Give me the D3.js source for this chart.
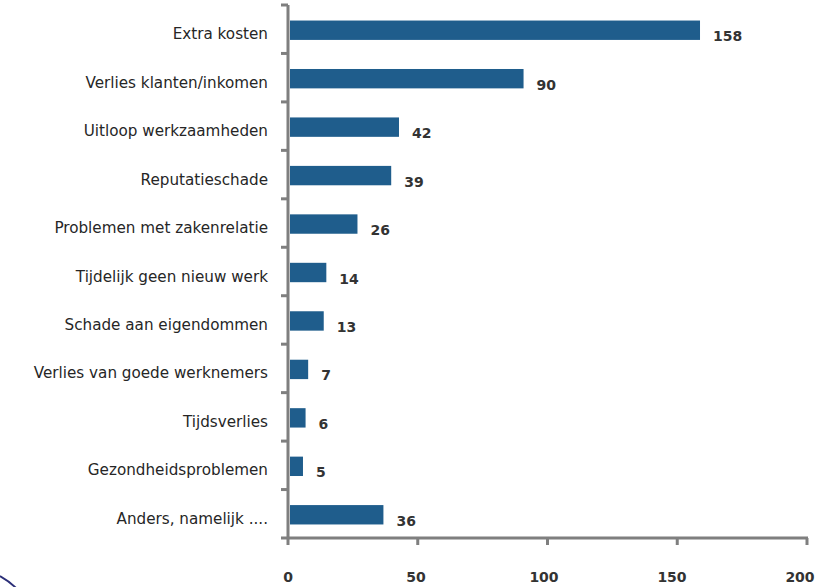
<!DOCTYPE html>
<html><head><meta charset="utf-8">
<script src="https://cdn.jsdelivr.net/npm/d3@7/dist/d3.min.js"></script>
<style>body{margin:0;background:#fff}svg{display:block}</style>
</head><body><svg id="c" width="820" height="587"></svg>
<script>
const categories = ["Extra kosten","Verlies klanten/inkomen","Uitloop werkzaamheden","Reputatieschade","Problemen met zakenrelatie","Tijdelijk geen nieuw werk","Schade aan eigendommen","Verlies van goede werknemers","Tijdsverlies","Gezondheidsproblemen","Anders, namelijk ...."];
const values = [158,90,42,39,26,14,13,7,6,5,36];
const xTicks = [0,50,100,150,200];

(function(){
const svg = d3.select("#c");
const mLeft = 288, mRight = 807, mTop = 5, mBottom = 538;
const x = d3.scaleLinear().domain([0,200]).range([mLeft,mRight]);
const y = d3.scaleBand().domain(categories).range([mTop,mBottom]).paddingInner(0.6).paddingOuter(0.3);
const font = "'DejaVu Sans', Verdana, sans-serif";

svg.selectAll("rect.bar").data(values).enter().append("rect")
  .attr("x", x(0)+2).attr("y",(d,i)=>y(categories[i])+1)
  .attr("width", d=>x(d)-x(0)).attr("height", y.bandwidth())
  .attr("fill","#1f5d8c");

svg.selectAll("text.val").data(values).enter().append("text")
  .attr("x", d=>x(d)+15).attr("y",(d,i)=>y(categories[i])+y.bandwidth()/2+12)
  .attr("font-family",font).attr("font-size",14).attr("font-weight","bold").attr("fill","#333")
  .text(d=>d);

const yb = d3.scaleLinear().domain([0,categories.length]).range([mTop,mBottom]);
const g = svg.append("g").attr("stroke","#7f7f7f");
g.append("line").attr("x1",mLeft).attr("x2",mLeft).attr("y1",mTop).attr("y2",mBottom+1).attr("stroke-width",3);
g.selectAll("line.yt").data(d3.range(categories.length)).enter().append("line")
  .attr("x1",mLeft-7).attr("x2",mLeft).attr("y1",d=>yb(d)).attr("y2",d=>yb(d)).attr("stroke-width",3);
g.append("line").attr("x1",mLeft-7).attr("x2",mRight+1).attr("y1",mBottom).attr("y2",mBottom).attr("stroke-width",3);
g.selectAll("line.xt").data(xTicks).enter().append("line")
  .attr("x1",d=>x(d)).attr("x2",d=>x(d)).attr("y1",mBottom).attr("y2",mBottom+7).attr("stroke-width",3);

svg.selectAll("text.cat").data(categories).enter().append("text")
  .attr("x",268).attr("y",d=>y(d)+y.bandwidth()/2+10).attr("text-anchor","end")
  .attr("font-family",font).attr("font-size",15.2).attr("fill","#262626").text(d=>d);

svg.selectAll("text.xl").data(xTicks).enter().append("text")
  .attr("x",d=>x(d)-d/200*7).attr("y",582).attr("text-anchor","middle")
  .attr("font-family",font).attr("font-size",14).attr("font-weight","bold").attr("fill","#333").text(d=>d);

svg.append("path").attr("d","M0,576 Q9,581 16,588").attr("stroke","#2c2f78").attr("stroke-width",2).attr("fill","none");
})();
</script></body></html>
